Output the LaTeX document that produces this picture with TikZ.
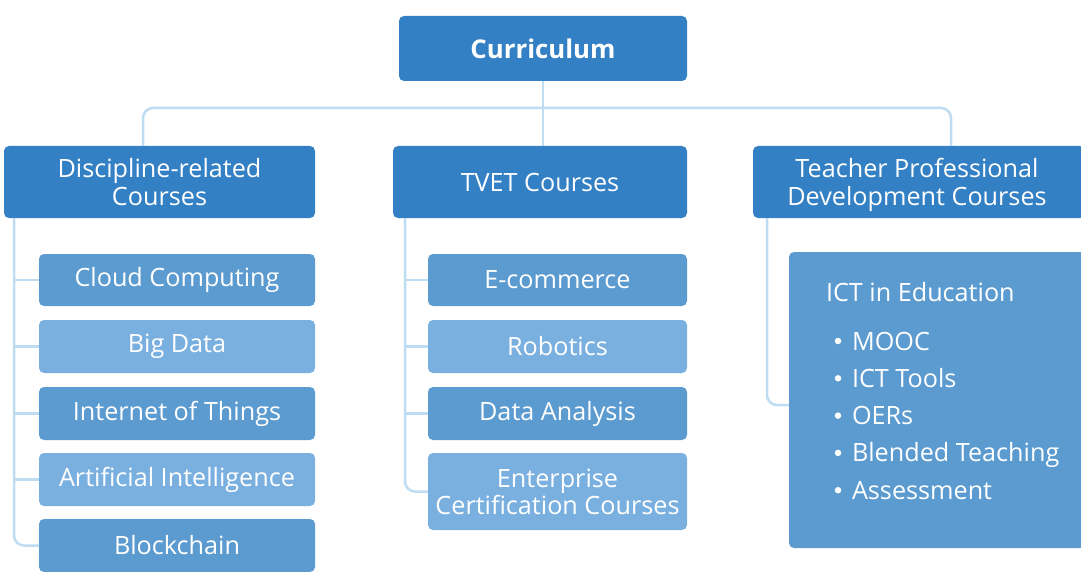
\documentclass[tikz,border=0pt]{standalone}
\usepackage{fontspec}
\setmainfont{Open Sans}
\definecolor{mainblue}{RGB}{51,128,196}
\definecolor{childdark}{RGB}{91,155,208}
\definecolor{childlight}{RGB}{122,176,223}
\definecolor{connblue}{RGB}{190,220,242}
\begin{document}
\begin{tikzpicture}[x=1pt,y=-1pt,
  every node/.style={inner sep=0pt, outer sep=0pt},
  topbox/.style={fill=mainblue, rounded corners=5pt, text=white, align=center,
    font=\fontsize{25.2}{27.5}\selectfont},
  kid/.style={rounded corners=5pt, text=white, align=center,
    font=\fontsize{25.2}{27.5}\selectfont},
  kiddark/.style={kid, fill=childdark},
  kidlight/.style={kid, fill=childlight},
  conn/.style={draw=connblue, line width=2.5pt, rounded corners=10pt},
  itemtext/.style={anchor=base west, text=white, font=\fontsize{25.2}{27.5}\selectfont},
  bul/.style={circle, fill=white, minimum size=6.5pt}
]
\path[use as bounding box, fill=white] (0,0) rectangle (1081,572);

% root
\node[topbox, minimum width=288pt, minimum height=65pt, font=\fontsize{25.8}{28}\selectfont\bfseries] (cur) at (543,48.5) {Curriculum};

% level 1
\node[topbox, minimum width=311pt, minimum height=72pt, text depth=0pt] (disc) at (159.5,182) {Discipline-related\\Courses};
\node[topbox, minimum width=294pt, minimum height=72pt] (tvet) at (540,182) {TVET Courses};
\node[topbox, minimum width=332pt, minimum height=72pt, text depth=0pt] (tp) at (919,182) {\hspace*{-4pt}Teacher Professional\\\hspace*{-4pt}Development Courses};

% bus
\coordinate (b1) at (143,108);
\coordinate (b2) at (543,108);
\coordinate (b3) at (951,108);
\draw[conn] (cur.south) -- (b2);
\draw[conn] (disc.north -| b1) |- (b3) -- (tp.north -| b3);
\draw[conn] (b2) -- (tvet.north -| b2);

% discipline children
\node[kiddark, minimum width=276pt, minimum height=52pt] (c1) at (177,280) {Cloud Computing};
\node[kidlight, minimum width=276pt, minimum height=53pt] (c2) at (177,346.5) {Big Data};
\node[kiddark, minimum width=276pt, minimum height=53pt] (c3) at (177,413.5) {Internet of Things};
\node[kidlight, minimum width=276pt, minimum height=53pt] (c4) at (177,479.5) {Artificial Intelligence};
\node[kiddark, minimum width=276pt, minimum height=53pt] (c5) at (177,545.5) {Blockchain};

\coordinate (s1) at (14,0);
\draw[conn] (disc.south -| s1) |- (c5.west);
\foreach \n in {c1,c2,c3,c4}{\draw[conn] (\n.west -| s1) -- (\n.west);}

% TVET children
\node[kiddark, minimum width=259pt, minimum height=52pt] (t1) at (557.5,280) {E-commerce};
\node[kidlight, minimum width=259pt, minimum height=53pt] (t2) at (557.5,346.5) {Robotics};
\node[kiddark, minimum width=259pt, minimum height=53pt] (t3) at (557.5,413.5) {Data Analysis};
\node[kidlight, minimum width=259pt, minimum height=77pt, text depth=0pt] (t4) at (557.5,491.5) {Enterprise\\Certification Courses};

\coordinate (s2) at (405,0);
\draw[conn] (tvet.south -| s2) |- (t4.west);
\foreach \n in {t1,t2,t3}{\draw[conn] (\n.west -| s2) -- (\n.west);}

% ICT box
\node[kiddark, minimum width=296pt, minimum height=296pt] (ict) at (937,400) {};
\coordinate (s3) at (767,0);
\coordinate (ictj) at (789,405);
\draw[conn] (tp.south -| s3) |- (ictj);

\node[itemtext] (ictt) at (826,301) {ICT in Education};
\foreach \i/\t in {0/MOOC,1/ICT Tools,2/OERs,3/Blended Teaching,4/Assessment}{
  \node[itemtext] (it\i) at (852,{350+37.3*\i}) {\t};
  \node[bul] (bu\i) at (838,{341+37.3*\i}) {};
}
\end{tikzpicture}
\end{document}
